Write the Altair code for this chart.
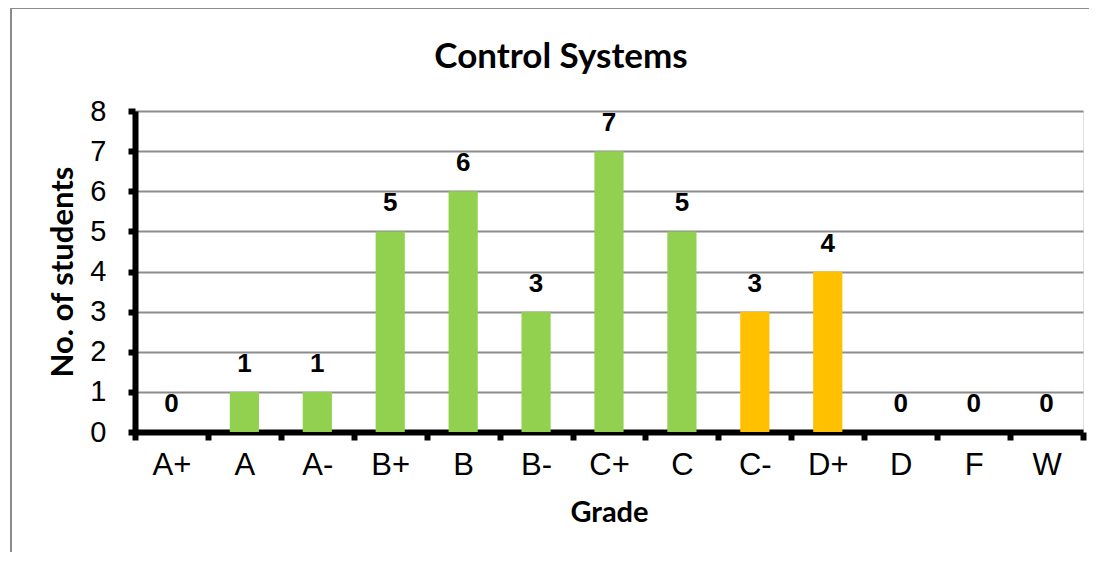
import altair as alt
import pandas as pd

grades = ["A+", "A", "A-", "B+", "B", "B-", "C+", "C", "C-", "D+", "D", "F", "W"]
students = [0, 1, 1, 5, 6, 3, 7, 5, 3, 4, 0, 0, 0]
bar_colors = ["#92D050"] * 8 + ["#FFC000"] * 2 + ["#92D050"] * 3
chart_title = ["Control Systems"]

df = pd.DataFrame({"grade": grades, "n": students, "color": bar_colors})

W, H = 948, 321

x = alt.X("grade:N", sort=grades, title="Grade",
          scale=alt.Scale(paddingInner=0, paddingOuter=0),
          axis=alt.Axis(labelAngle=0, labelFont="Liberation Sans", labelFontSize=31,
                        labelColor="black", labelPadding=10,
                        titleFont="Lato", titleFontSize=29, titleFontWeight="bold",
                        titleColor="black", titlePadding=18,
                        domainColor="black", domainWidth=6,
                        tickColor="black", tickWidth=6, tickSize=8, tickBand="extent",
                        grid=False))
y = alt.Y("n:Q", title="No. of students",
          scale=alt.Scale(domain=[0, 8]),
          axis=alt.Axis(values=list(range(9)), labelFont="Liberation Sans", labelFontSize=29,
                        labelColor="black", labelPadding=22,
                        titleFont="Lato", titleFontSize=31, titleFontWeight="bold",
                        titleColor="black", titlePadding=10,
                        domainColor="black", domainWidth=6,
                        tickColor="black", tickWidth=6, tickSize=7,
                        gridColor="#8c8c8c", gridWidth=2))

bars = alt.Chart(df).mark_bar(width=alt.RelativeBandSize(0.4)).encode(
    x=x, y=y, color=alt.Color("color:N", scale=None)
)
labels = alt.Chart(df).mark_text(dy=-28, fontSize=26, fontWeight="bold",
                                 font="Liberation Sans", color="black").encode(
    x=alt.X("grade:N", sort=grades), y=alt.Y("n:Q"), text="n:Q"
)
frame_left = alt.Chart(df).mark_rule(color="#8c8c8c", strokeWidth=2).encode(
    x=alt.value(-124), y=alt.value(-103), y2=alt.value(460)
)
frame_top = alt.Chart(df).mark_rule(color="#8c8c8c", strokeWidth=2).encode(
    x=alt.value(-124), x2=alt.value(980), y=alt.value(-103)
)
title = alt.Chart(pd.DataFrame({"t": chart_title})).mark_text(
    font="Lato", fontSize=35, fontWeight="bold", color="black",
    align="center", baseline="middle"
).encode(x=alt.value(426), y=alt.value(-54), text="t:N")

chart = alt.layer(frame_left, frame_top, bars, labels, title).properties(
    width=W, height=H,
    autosize=alt.AutoSizeParams(type="none"),
    padding={"left": 127, "top": 103, "right": 6, "bottom": 120},
).configure_view(stroke=None).configure(background="white")

chart.save("out.html", embed_options={"renderer": "svg", "actions": False})
